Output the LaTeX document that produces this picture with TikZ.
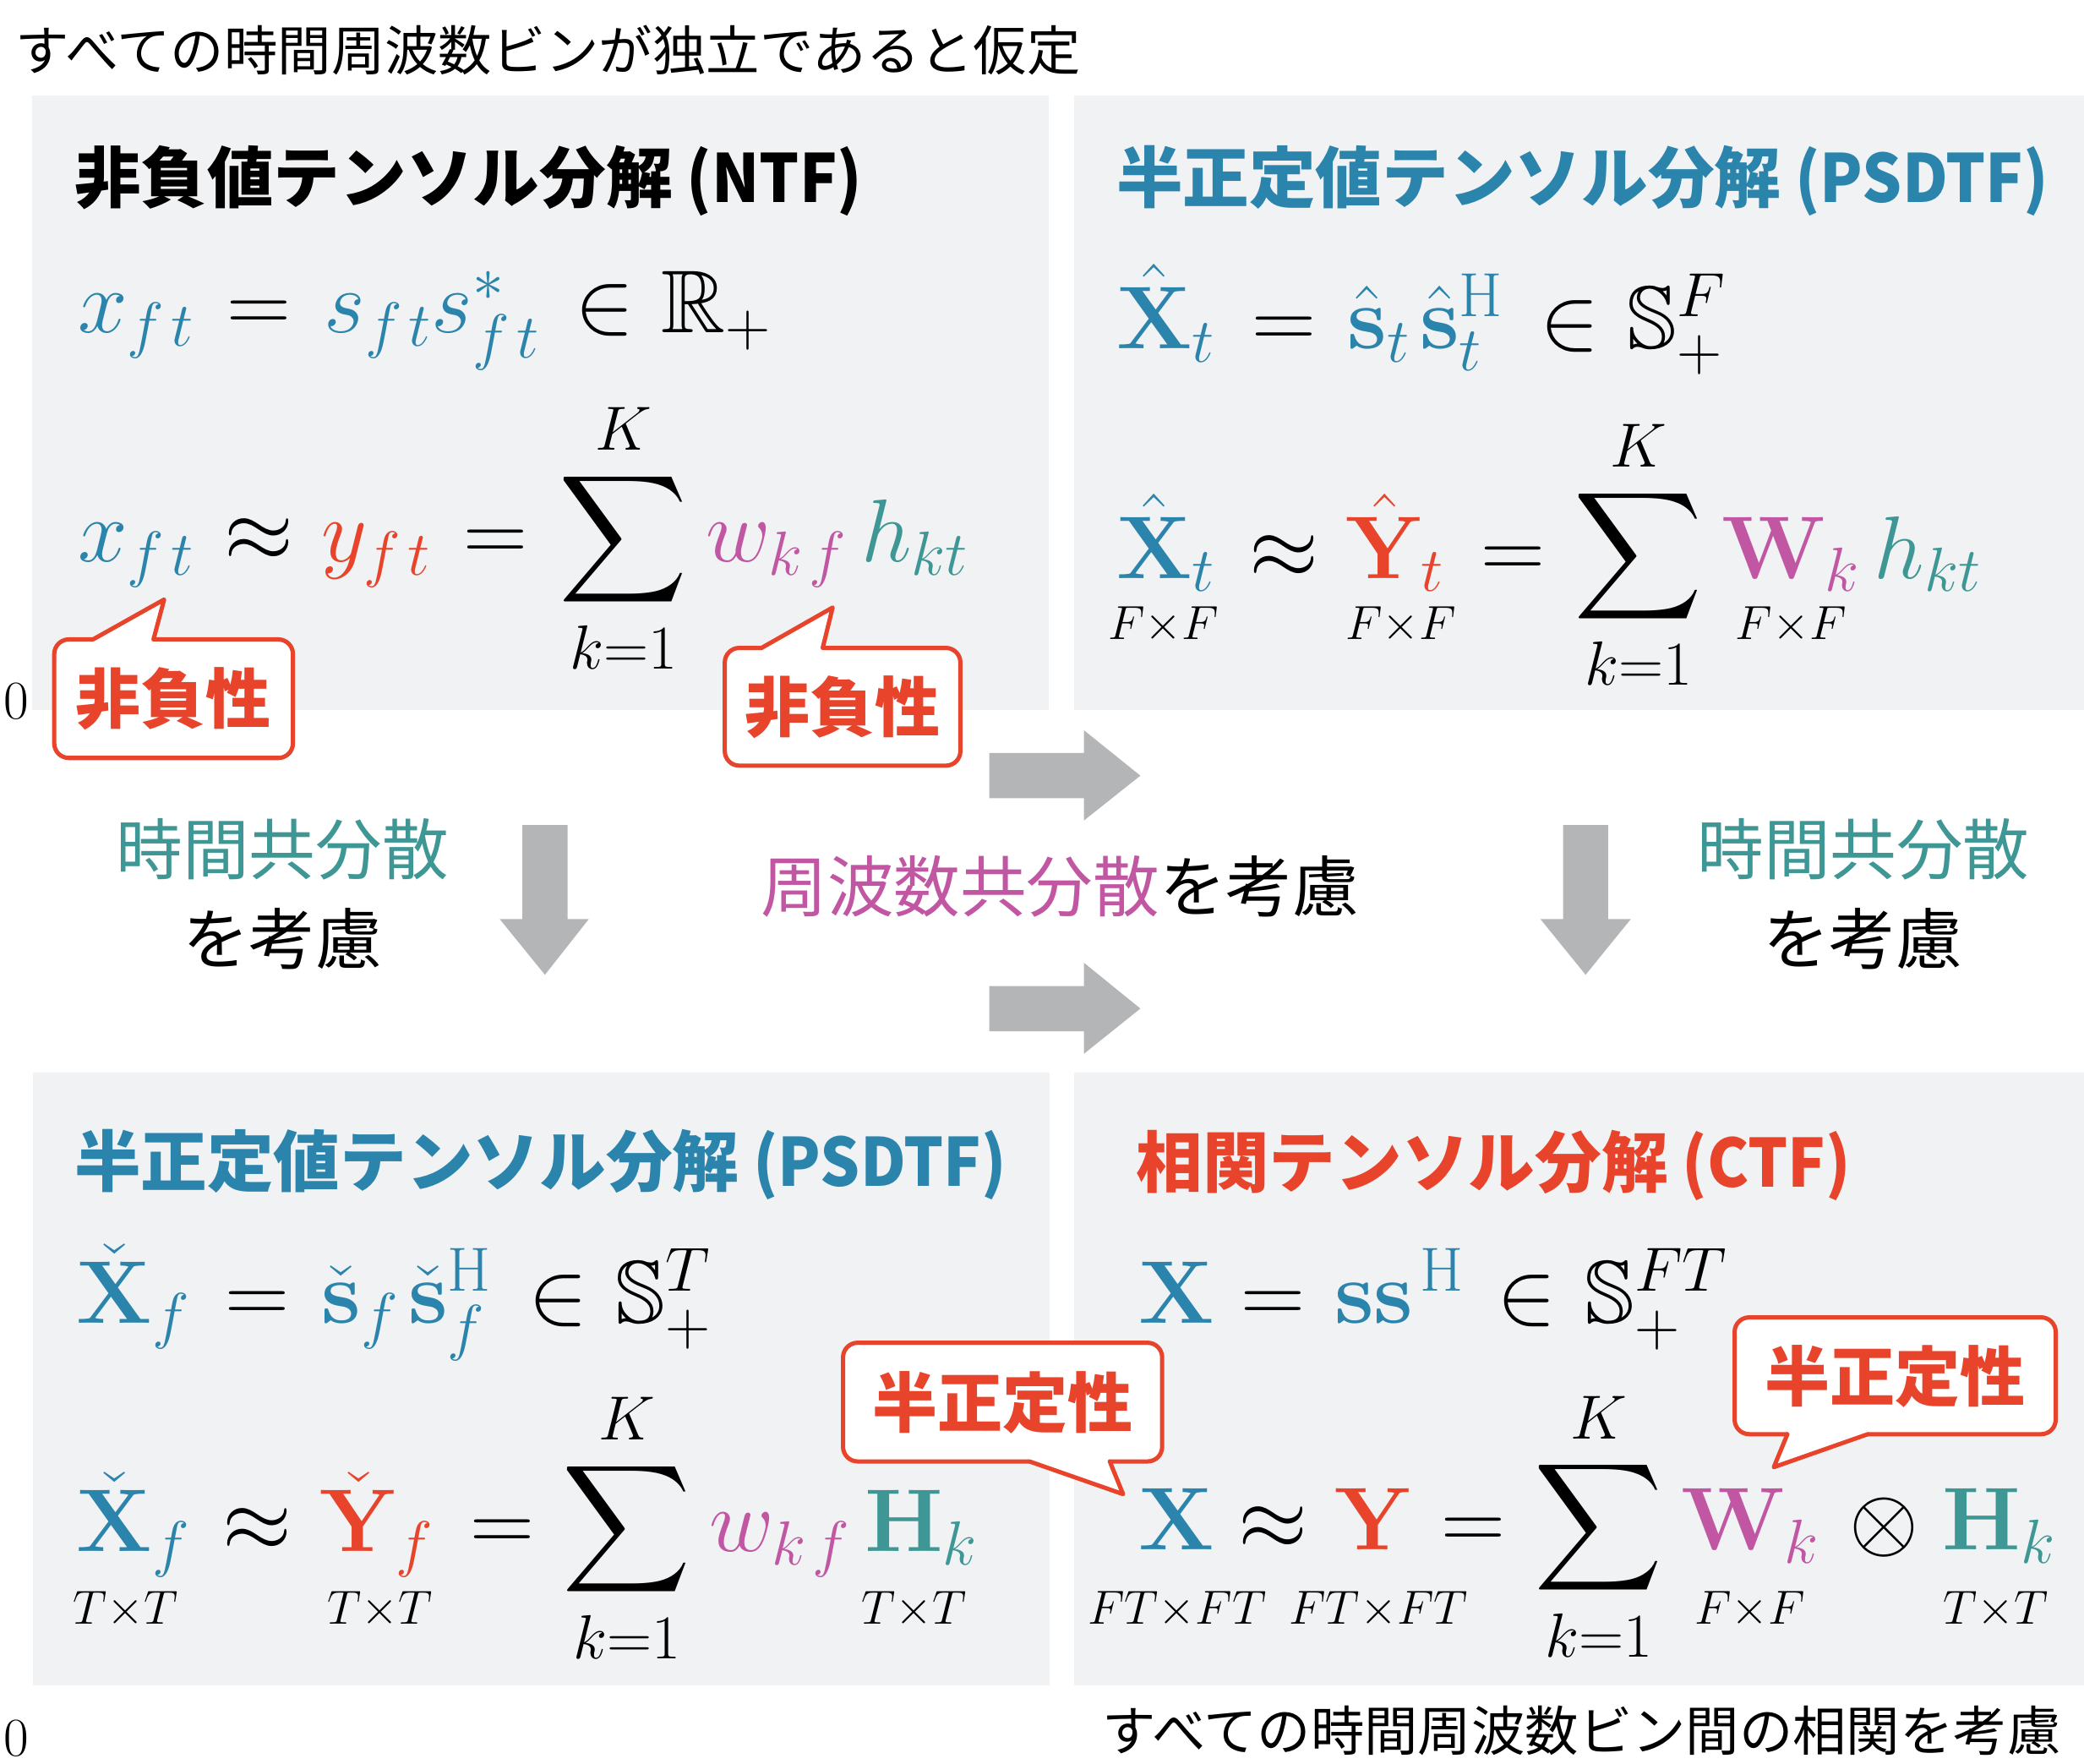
\RequirePackage{fix-cm}
\documentclass[tikz,border=0pt]{standalone}
\usepackage{amsmath,amssymb}
\usepackage[no-math]{fontspec}
\newfontfamily\jpfont{Noto Sans CJK JP}
\DeclareFontFamily{U}{msb}{}
\DeclareFontShape{U}{msb}{m}{n}{<->msbm10}{}
\definecolor{cblue}{HTML}{2B84AC}
\definecolor{cred}{HTML}{E8442B}
\definecolor{cmag}{HTML}{C156A3}
\definecolor{cteal}{HTML}{3E9794}
\definecolor{cpanel}{HTML}{F1F2F4}
\definecolor{cgray}{HTML}{B4B5B7}
\newcommand{\sk}{\mkern2mu}
\newcommand{\latn}[1]{\scalebox{0.94}[1]{#1}}
\tikzset{
  eq/.style={inner sep=0pt, outer sep=0pt, anchor=base west, font=\fontsize{67}{80}\selectfont},
  eqc/.style={eq, anchor=base},
  dimlab/.style={inner sep=0pt, outer sep=0pt, anchor=base, font=\fontsize{36}{43}\selectfont},
  jptext/.style={inner sep=0pt, outer sep=0pt, anchor=base, font=\jpfont\fontsize{40.3}{48}\selectfont},
  jpmid/.style={inner sep=0pt, outer sep=0pt, anchor=base, font=\jpfont\fontsize{50}{60}\selectfont},
  jptitle/.style={inner sep=0pt, outer sep=0pt, anchor=base west, font=\jpfont\bfseries\fontsize{50}{60}\selectfont},
  calltext/.style={inner sep=0pt, outer sep=0pt, anchor=base, text=cred, font=\jpfont\bfseries\fontsize{49}{58}\selectfont},
  callbox/.style={draw=cred, line width=3.2pt, fill=white, rounded corners=11pt},
  calltail/.style={draw=cred, line width=3.2pt, line cap=round, line join=round},
  blockarrow/.style={fill=cgray},
  zero/.style={inner sep=0pt, anchor=base, font=\fontsize{41}{48}\selectfont}
}
\begin{document}
\begin{tikzpicture}[x=1pt, y=-1pt]
\useasboundingbox (0,0) rectangle (1568,1327);
% panels
\fill[cpanel] (24,72) rectangle (789,534);
\fill[cpanel] (808,72) rectangle (1568,534);
\fill[cpanel] (25,807) rectangle (790,1268);
\fill[cpanel] (808,807) rectangle (1568,1268);

% top and bottom captions
\node[jptext] (toptext) at (412.5,53) {すべての時間周波数ビンが独立であると仮定};
\node[jptext] (bottext) at (1190,1317) {すべての時間周波数ビン間の相関を考慮};
\node[zero] (zeroA) at (12.5,541) {0};
\node[zero] (zeroB) at (12.5,1321) {0};

% titles
\node[jptitle] (titleTL) at (56,152) {非負値テンソル分解\latn{ (NTF)}};
\node[jptitle, text=cblue] (titleTR) at (840,152) {半正定値テンソル分解\latn{ (PSDTF)}};
\node[jptitle, text=cblue] (titleBL) at (56,892.5) {半正定値テンソル分解\latn{ (PSDTF)}};
\node[jptitle, text=cred] (titleBR) at (855,893) {相関テンソル分解\latn{ (CTF)}};

% ---------- TL equations
\node[eq] (tl1a) at (58.7,250.5) {$\color{cblue}x_{f\sk t}$};
\node[eqc] (tl1b) at (194.6,250.5) {$=$};
\node[eq] (tl1c) at (244,250.5) {$\color{cblue}s_{f\sk t}s_{f\sk t}^{*}$};
\node[eqc] (tl1d) at (455.3,250.5) {$\in$};
\node[eq] (tl1e) at (497.7,250.5) {$\mathbb{R}_{+}$};

\node[eq] (tl2a) at (58.7,422.6) {$\color{cblue}x_{f\sk t}$};
\node[eqc] (tl2b) at (194.6,422.6) {$\approx$};
\node[eq] (tl2c) at (241.8,422.6) {$\color{cred}y_{f\sk t}$};
\node[eqc] (tl2d) at (372.6,422.6) {$=$};
\node[eqc] (tl2e) at (469,422.6) {$\displaystyle\sum_{k=1}^{K}$};
\node[eq] (tl2f) at (531.2,422.6) {${\color{cmag}w_{k\sk f}}\,{\color{cteal}h_{k t}}$};

% ---------- TR equations
\node[eq] (tr1a) at (840,262.4) {$\color{cblue}\hat{\mathbf{X}}_{t}$};
\node[eqc] (tr1b) at (965.8,262.4) {$=$};
\node[eq] (tr1c) at (1014,262.4) {$\color{cblue}\hat{\mathbf{s}}_{t}\mkern2mu\hat{\mathbf{s}}_{t}^{\mathrm{H}}$};
\node[eqc] (tr1d) at (1181.4,262.4) {$\in$};
\node[eq] (tr1e) at (1224.3,262.4) {$\mathbb{S}_{+}^{F}$};

\node[eq] (tr2a) at (840,435) {$\color{cblue}\hat{\mathbf{X}}_{t}$};
\node[eqc] (tr2b) at (966.3,435) {$\approx$};
\node[eq] (tr2c) at (1012.4,435) {$\color{cred}\hat{\mathbf{Y}}_{t}$};
\node[eqc] (tr2d) at (1138.5,435) {$=$};
\node[eqc] (tr2e) at (1232.8,435) {$\displaystyle\sum_{k=1}^{K}$};
\node[eq] (tr2f) at (1295.3,435) {${\color{cmag}\mathbf{W}_{k}}\,{\color{cteal}h_{kt}}$};
\node[dimlab] (trl1) at (875.4,481) {$F{\times}F$};
\node[dimlab] (trl2) at (1054.2,481) {$F{\times}F$};
\node[dimlab] (trl3) at (1347.4,481) {$F{\times}F$};

% ---------- BL equations
\node[eq] (bl1a) at (57.7,995.4) {$\color{cblue}\check{\mathbf{X}}_{f}$};
\node[eqc] (bl1b) at (193.7,995.4) {$=$};
\node[eq] (bl1c) at (241.8,995.4) {$\color{cblue}\check{\mathbf{s}}_{f}\mkern2mu\check{\mathbf{s}}_{f}^{\mathrm{H}}$};
\node[eqc] (bl1d) at (420.1,995.4) {$\in$};
\node[eq] (bl1e) at (463.4,995.4) {$\mathbb{S}_{+}^{T}$};

\node[eq] (bl2a) at (57.7,1167) {$\color{cblue}\check{\mathbf{X}}_{f}$};
\node[eqc] (bl2b) at (193.7,1167) {$\approx$};
\node[eq] (bl2c) at (240.7,1167) {$\color{cred}\check{\mathbf{Y}}_{f}$};
\node[eqc] (bl2d) at (377.7,1167) {$=$};
\node[eqc] (bl2e) at (471.8,1167) {$\displaystyle\sum_{k=1}^{K}$};
\node[eq] (bl2f) at (533.7,1167) {${\color{cmag}w_{k\sk f}}\,{\color{cteal}\mathbf{H}_{k}}$};
\node[dimlab] (bll1) at (94.5,1222) {$T{\times}T$};
\node[dimlab] (bll2) at (285.7,1222) {$T{\times}T$};
\node[dimlab] (bll3) at (687.8,1222) {$T{\times}T$};

% ---------- BR equations
\node[eq] (br1a) at (856.5,995.7) {$\color{cblue}\mathbf{X}$};
\node[eqc] (br1b) at (957.7,995.7) {$=$};
\node[eq] (br1c) at (1004.1,995.7) {$\color{cblue}\mathbf{s}\mathbf{s}^{\mkern2mu\mathrm{H}}$};
\node[eqc] (br1d) at (1149,995.7) {$\in$};
\node[eq] (br1e) at (1192.5,995.7) {$\mathbb{S}_{+}^{FT}$};

\node[eq] (br2a) at (856.5,1166) {$\color{cblue}\mathbf{X}$};
\node[eqc] (br2b) at (957.7,1166) {$\approx$};
\node[eq] (br2c) at (1004,1166) {$\color{cred}\mathbf{Y}$};
\node[eqc] (br2d) at (1108.3,1166) {$=$};
\node[eqc] (br2e) at (1202.7,1166) {$\displaystyle\sum_{k=1}^{K}$};
\node[eq] (br2f) at (1264.8,1166) {$\color{cmag}\mathbf{W}_{k}$};
\node[eqc] (br2g) at (1417.4,1166) {$\otimes$};
\node[eq] (br2h) at (1461.5,1166) {$\color{cteal}\mathbf{H}_{k}$};
\node[dimlab] (brl1) at (885.6,1222) {$FT{\times}FT$};
\node[dimlab] (brl2) at (1037.2,1222) {$FT{\times}FT$};
\node[dimlab] (brl3) at (1316.6,1222) {$F{\times}F$};
\node[dimlab] (brl4) at (1501.8,1222) {$T{\times}T$};

% ---------- middle texts
\node[jpmid, text=cteal] (covL1) at (212.5,657.8) {時間共分散};
\node[jpmid] (covL2) at (212.5,725) {を考慮};
\node[jpmid, text=cteal] (covR1) at (1402,657.8) {時間共分散};
\node[jpmid] (covR2) at (1401.5,725) {を考慮};
\node[jpmid] (covC) at (797.5,685.5) {\textcolor{cmag}{周波数共分散}を考慮};

% ---------- block arrows
\fill[blockarrow] (744.4,566.5) -- (815.6,566.5) -- (815.6,549.4) -- (858,583.5) -- (815.6,617.2) -- (815.6,600.4) -- (744.4,600.4) -- cycle;
\fill[blockarrow] (744.4,741.8) -- (815.6,741.8) -- (815.6,724.3) -- (858,758.7) -- (815.6,792.7) -- (815.6,775.8) -- (744.4,775.8) -- cycle;
\fill[blockarrow] (393,620.6) -- (393,691.4) -- (376,691.4) -- (410,733.3) -- (443,691.4) -- (427,691.4) -- (427,620.6) -- cycle;
\fill[blockarrow] (1176,620.6) -- (1176,691.4) -- (1159,691.4) -- (1193,733.3) -- (1227,691.4) -- (1210,691.4) -- (1210,620.6) -- cycle;

% ---------- callouts
\draw[callbox] (40.8,481) rectangle (220.4,570.2);
\fill[white] (70,481) -- (123.5,451) -- (115.5,481) -- (115.5,485) -- (70,485) -- cycle;
\draw[calltail] (70,481) -- (123.5,451) -- (115.5,481);
\node[calltext] (call1) at (130.6,544.2) {非負性};

\draw[callbox] (545.3,487.4) rectangle (722.6,576);
\fill[white] (573,487.4) -- (626.5,457) -- (619,487.4) -- (619,491) -- (573,491) -- cycle;
\draw[calltail] (573,487.4) -- (626.5,457) -- (619,487.4);
\node[calltext] (call2) at (634,550.3) {非負性};

\draw[callbox] (634.3,1010.1) rectangle (874.4,1099.4);
\fill[white] (774.6,1099.4) -- (845,1124) -- (835,1099.4) -- (835,1095.5) -- (774.6,1095.5) -- cycle;
\draw[calltail] (774.6,1099.4) -- (845,1124) -- (835,1099.4);
\node[calltext] (call3) at (754.4,1073.4) {半正定性};

\draw[callbox] (1305.1,991) rectangle (1546.7,1078.9);
\fill[white] (1344.8,1078.9) -- (1334.6,1103.7) -- (1405.3,1078.9) -- (1405.3,1075) -- (1344.8,1075) -- cycle;
\draw[calltail] (1344.8,1078.9) -- (1334.6,1103.7) -- (1405.3,1078.9);
\node[calltext] (call4) at (1425.9,1053.6) {半正定性};
\end{tikzpicture}
\end{document}
